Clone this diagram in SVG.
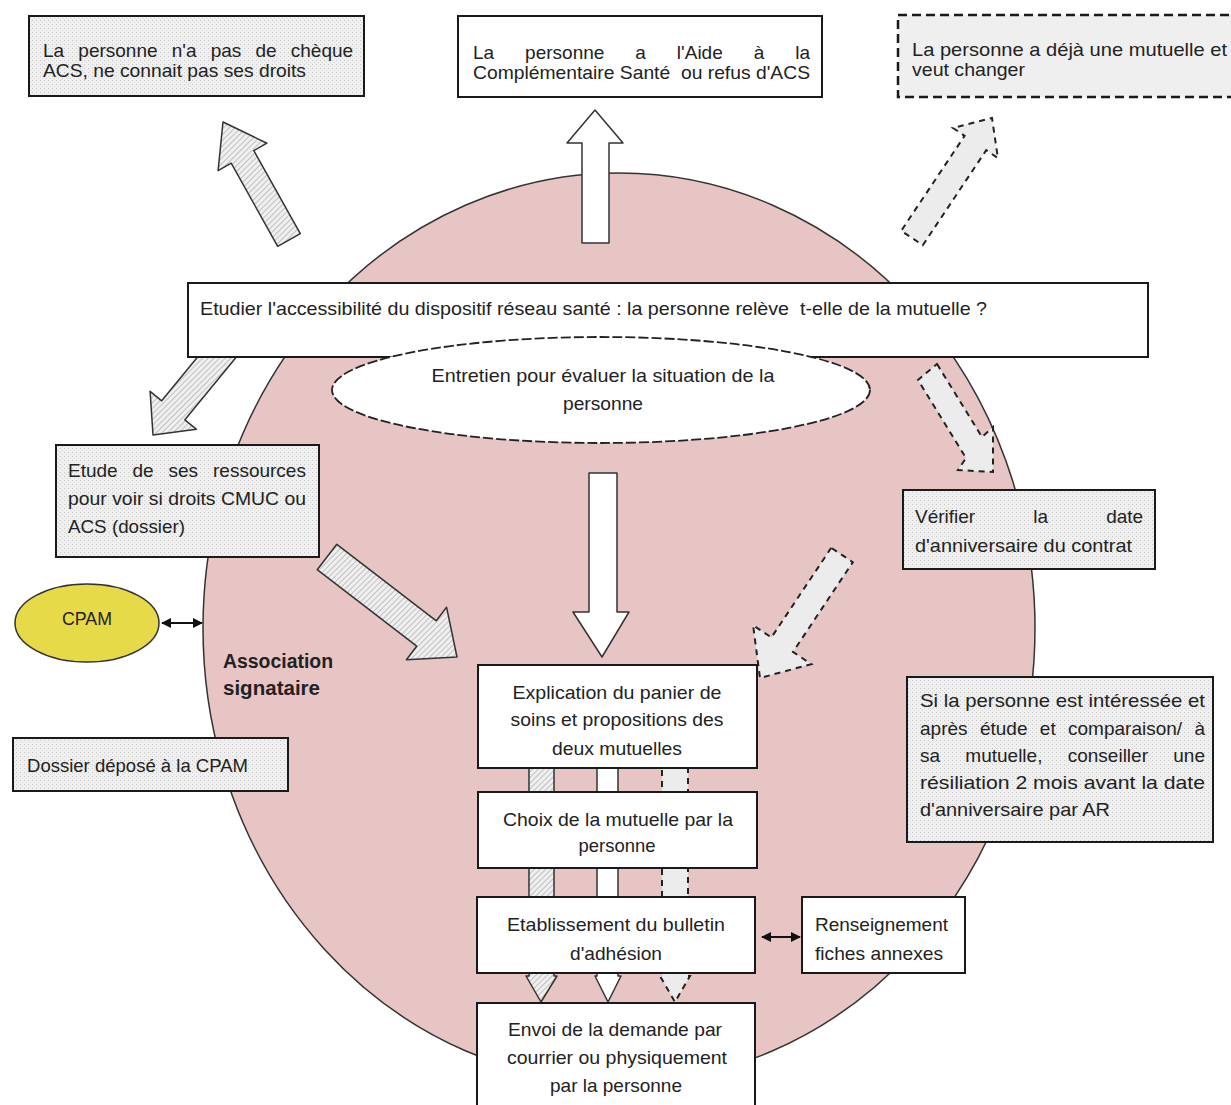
<svg xmlns="http://www.w3.org/2000/svg" width="1231" height="1105" viewBox="0 0 1231 1105">
<style>
.t{font-family:"Liberation Sans",Arial,sans-serif;font-size:19px;fill:#222}
.tb{font-family:"Liberation Sans",Arial,sans-serif;font-size:20px;font-weight:bold;fill:#222}
.wbox{fill:#ffffff;stroke:#1a1a1a;stroke-width:2}
.sbox{fill:url(#stip);stroke:#1a1a1a;stroke-width:2}
.harr{fill:url(#hatch);stroke:#333;stroke-width:1.5;stroke-linejoin:round}
.warr{fill:#ffffff;stroke:#333;stroke-width:1.5;stroke-linejoin:round}
.darr{fill:#ececec;stroke:#222;stroke-width:2;stroke-dasharray:6 5}
.con{stroke:#111;stroke-width:2;fill:none}
</style>
<defs>
<pattern id="stip" width="4" height="4" patternUnits="userSpaceOnUse"><rect width="4" height="4" fill="#f0f0f0"/><rect x="0" y="0" width="1" height="1" fill="#c6c6c6"/><rect x="2" y="2" width="1" height="1" fill="#d8d8d8"/></pattern>
<pattern id="hatch" width="4" height="4" patternUnits="userSpaceOnUse" patternTransform="rotate(45)"><rect width="4" height="4" fill="#efefef"/><line x1="0" y1="0" x2="0" y2="4" stroke="#a8a8a8" stroke-width="1.3"/></pattern>
<marker id="ah" viewBox="0 0 10 10" refX="9" refY="5" markerWidth="5" markerHeight="5" orient="auto-start-reverse"><path d="M0,0 L10,5 L0,10 z" fill="#111"/></marker>
</defs>

<rect width="1231" height="1105" fill="#ffffff"/>

<g id="association">
<ellipse cx="619" cy="628" rx="416" ry="455" fill="#e8c5c5" stroke="#333" stroke-width="1.5"/>
<text class="tb" x="223" y="668" textLength="110" lengthAdjust="spacingAndGlyphs">Association</text>
<text class="tb" x="223" y="695" textLength="97" lengthAdjust="spacingAndGlyphs">signataire</text>
</g>

<g id="connectors">
<polygon class="harr" points="300.3,233.7 253.8,150.6 266.9,143.2 223,122 218.1,170.6 231.2,163.2 277.7,246.3"/>
<polygon class="warr" points="582,243 582,143 567,143 595,110 623,143 609,143 609,243"/>
<polygon class="darr" points="922.8,245.2 986.2,150.2 997.9,158 992,118 952.9,128 964.6,135.8 901.2,230.8"/>
<polygon class="harr" points="223.4,325.5 161.7,400.8 150.1,391.3 153,435 196.5,429.3 184.9,419.8 246.6,344.5"/>
<polygon class="harr" points="336.8,544.3 436.3,620.8 446.6,607.3 457,657 406.4,659.7 416.7,646.2 317.2,569.7"/>
<polygon class="warr" points="589,473 617,473 617,612 629,612 602,657 573,612 589,612"/>
<polygon class="darr" points="937,364 982,437 993,427 993,472 958,470 966,458 918,380"/>
<polygon class="darr" points="831.2,547.8 771.4,637.5 753.1,625.3 760,678 811.3,664.1 793,651.9 852.8,562.2"/>
<polygon class="harr" points="529,760 554,760 554,976 557,976 541,1002 526,976 529,976"/>
<polygon class="warr" points="597,760 618,760 618,976 621,976 608,1002 595,976 597,976"/>
<polygon class="darr" points="662,760 688,760 688,976 690,976 675,1002 660,976 662,976"/>
<line class="con" x1="162" y1="623" x2="202" y2="623" marker-start="url(#ah)" marker-end="url(#ah)"/>
<line class="con" x1="762" y1="937" x2="800" y2="937" marker-start="url(#ah)" marker-end="url(#ah)"/>
</g>

<g id="n-sans-cheque">
<rect class="sbox" x="29" y="16" width="335" height="80"/>
<text class="t" x="43" y="57" word-spacing="8.9">La personne n'a pas de chèque</text>
<text class="t" x="43" y="77" textLength="263" lengthAdjust="spacingAndGlyphs">ACS, ne connait pas ses droits</text>
</g>

<g id="n-aide">
<rect class="wbox" x="458" y="16" width="364" height="81"/>
<text class="t" x="473" y="59" word-spacing="25.7">La personne a l'Aide à la</text>
<text class="t" x="473" y="79" textLength="337" lengthAdjust="spacingAndGlyphs" xml:space="preserve">Complémentaire Santé  ou refus d'ACS</text>
</g>

<g id="n-deja-mutuelle">
<rect x="898" y="15" width="345" height="82" fill="#efefef" stroke="#1a1a1a" stroke-width="2.5" stroke-dasharray="9 5"/>
<text class="t" x="912" y="56" textLength="315" lengthAdjust="spacingAndGlyphs">La personne a déjà une mutuelle et</text>
<text class="t" x="912" y="76" textLength="113" lengthAdjust="spacingAndGlyphs">veut changer</text>
</g>

<g id="n-etudier">
<rect class="wbox" x="188" y="283" width="960" height="74"/>
<text class="t" x="200" y="315" textLength="787" lengthAdjust="spacingAndGlyphs" xml:space="preserve">Etudier l'accessibilité du dispositif réseau santé : la personne relève  t-elle de la mutuelle ?</text>
</g>

<g id="n-entretien">
<ellipse cx="601" cy="390" rx="269" ry="53" fill="#ffffff" stroke="#222" stroke-width="1.8" stroke-dasharray="10 3"/>
<text class="t" x="603" y="382" text-anchor="middle" textLength="343" lengthAdjust="spacingAndGlyphs">Entretien pour évaluer la situation de la</text>
<text class="t" x="603" y="410" text-anchor="middle" textLength="80" lengthAdjust="spacingAndGlyphs">personne</text>
</g>

<g id="n-etude">
<rect class="sbox" x="56" y="445" width="263" height="112"/>
<text class="t" x="68" y="477" word-spacing="9.6">Etude de ses ressources</text>
<text class="t" x="68" y="505" textLength="238" lengthAdjust="spacingAndGlyphs">pour voir si droits CMUC ou</text>
<text class="t" x="68" y="533" textLength="117" lengthAdjust="spacingAndGlyphs">ACS (dossier)</text>
</g>

<g id="n-verifier">
<rect class="sbox" x="903" y="490" width="252" height="79"/>
<text class="t" x="915" y="523" word-spacing="52.8">Vérifier la date</text>
<text class="t" x="915" y="552" textLength="217" lengthAdjust="spacingAndGlyphs">d'anniversaire du contrat</text>
</g>

<g id="n-cpam">
<ellipse cx="87" cy="623" rx="72" ry="39" fill="#e6da48" stroke="#333" stroke-width="1.5"/>
<text class="t" x="87" y="625" text-anchor="middle" textLength="50" lengthAdjust="spacingAndGlyphs" fill="#444">CPAM</text>
</g>

<g id="n-dossier">
<rect class="sbox" x="13" y="738" width="275" height="53"/>
<text class="t" x="27" y="772" textLength="221" lengthAdjust="spacingAndGlyphs">Dossier déposé à la CPAM</text>
</g>

<g id="n-explication">
<rect class="wbox" x="478" y="665" width="279" height="103"/>
<text class="t" x="617" y="699" text-anchor="middle" textLength="209" lengthAdjust="spacingAndGlyphs">Explication du panier de</text>
<text class="t" x="617" y="726" text-anchor="middle" textLength="213" lengthAdjust="spacingAndGlyphs">soins et propositions des</text>
<text class="t" x="617" y="755" text-anchor="middle" textLength="130" lengthAdjust="spacingAndGlyphs">deux mutuelles</text>
</g>

<g id="n-choix">
<rect class="wbox" x="478" y="792" width="279" height="76"/>
<text class="t" x="618" y="826" text-anchor="middle" textLength="230" lengthAdjust="spacingAndGlyphs">Choix de la mutuelle par la</text>
<text class="t" x="617" y="852" text-anchor="middle" textLength="77" lengthAdjust="spacingAndGlyphs">personne</text>
</g>

<g id="n-si-interessee">
<rect class="sbox" x="907" y="677" width="306" height="165"/>
<text class="t" x="920" y="707" textLength="285" lengthAdjust="spacingAndGlyphs">Si la personne est intéressée et</text>
<text class="t" x="920" y="735" word-spacing="7.1">après étude et comparaison/ à</text>
<text class="t" x="920" y="762" word-spacing="20">sa mutuelle, conseiller une</text>
<text class="t" x="920" y="789" textLength="285" lengthAdjust="spacingAndGlyphs">résiliation 2 mois avant la date</text>
<text class="t" x="920" y="816" textLength="190" lengthAdjust="spacingAndGlyphs">d'anniversaire par AR</text>
</g>

<g id="n-etablissement">
<rect class="wbox" x="477" y="897" width="278" height="76"/>
<text class="t" x="616" y="931" text-anchor="middle" textLength="218" lengthAdjust="spacingAndGlyphs">Etablissement du bulletin</text>
<text class="t" x="616" y="960" text-anchor="middle" textLength="92" lengthAdjust="spacingAndGlyphs">d'adhésion</text>
</g>

<g id="n-renseignement">
<rect class="wbox" x="802" y="897" width="163" height="76"/>
<text class="t" x="815" y="931" textLength="133" lengthAdjust="spacingAndGlyphs">Renseignement</text>
<text class="t" x="815" y="960" textLength="128" lengthAdjust="spacingAndGlyphs">fiches annexes</text>
</g>

<g id="n-envoi">
<rect class="wbox" x="477" y="1003" width="278" height="110"/>
<text class="t" x="615" y="1036" text-anchor="middle" textLength="214" lengthAdjust="spacingAndGlyphs">Envoi de la demande par</text>
<text class="t" x="617" y="1064" text-anchor="middle" textLength="220" lengthAdjust="spacingAndGlyphs">courrier ou physiquement</text>
<text class="t" x="616" y="1092" text-anchor="middle" textLength="132" lengthAdjust="spacingAndGlyphs">par la personne</text>
</g>
</svg>
